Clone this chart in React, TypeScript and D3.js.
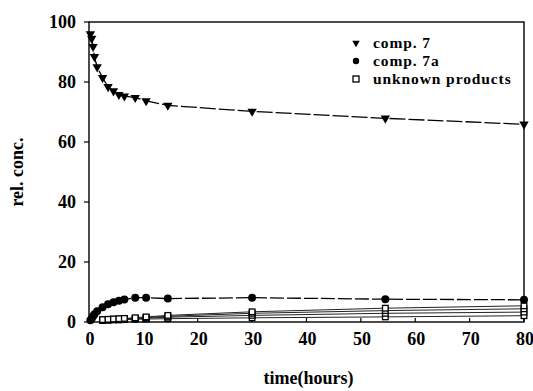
import React from 'react';
import * as d3 from 'd3';

const W = 533;
const H = 391;

// sampling times (hours)
const times = [0.25, 0.5, 0.75, 1.0, 1.5, 2.5, 3.5, 4.5, 5.5, 6.5, 8.5, 10.5, 14.5, 30, 54.5, 80];
const comp7 = [96, 94.5, 91.8, 88.4, 85, 81.4, 78.4, 77, 75.8, 75.3, 74.8, 73.7, 72.2, 70.2, 67.9, 65.9];
const comp7a = [0.6, 1.2, 1.9, 2.6, 3.6, 4.9, 5.9, 6.6, 7.1, 7.5, 8.1, 8.1, 7.8, 8.1, 7.6, 7.4];

// unknown products (several minor series, same marker)
const unkTimes = [2.5, 3.5, 4.5, 5.5, 6.5, 8.5, 10.5, 14.5, 30, 54.5, 80];
const unknown1 = [0.5, 0.6, 0.7, 0.7, 0.8, 0.9, 1.0, 1.1, 1.4, 1.7, 2.1];
const unknown2 = [0.6, 0.7, 0.8, 0.9, 1.0, 1.1, 1.3, 1.6, 2.2, 2.9, 3.3];
const unknown3 = [0.7, 0.8, 0.9, 1.0, 1.1, 1.2, 1.5, 1.9, 2.9, 3.8, 4.4];
const unknown4 = [0.8, 0.9, 1.0, 1.1, 1.2, 1.4, 1.7, 2.2, 3.4, 4.6, 5.4];

const xTicks = [0, 10, 20, 30, 40, 50, 60, 70, 80];
const yTicks = [0, 20, 40, 60, 80, 100];
const legendLabels = ['comp. 7', 'comp. 7a', 'unknown products'];

const FONT = '"Liberation Serif", "Times New Roman", Times, serif';

export default function App() {
  const x = d3.scaleLinear().domain([0, 80]).range([89, 524]);
  const y = d3.scaleLinear().domain([0, 100]).range([322, 22]);

  const line = d3.line<[number, number]>()
    .x(d => x(d[0]))
    .y(d => y(d[1]));

  const pts7 = times.map((t, i) => [t, comp7[i]] as [number, number]);
  const pts7a = times.map((t, i) => [t, comp7a[i]] as [number, number]);
  const unkSeries = [unknown1, unknown2, unknown3, unknown4].map(s =>
    unkTimes.map((t, i) => [t, s[i]] as [number, number]));

  const tri = d3.symbol().type(d3.symbolTriangle).size(38)() || '';
  const triSmall = d3.symbol().type(d3.symbolTriangle).size(24)() || '';

  return (
    <svg width={W} height={H}
      style={{ position: 'absolute', left: 0, top: 0, background: '#fff', fontFamily: FONT }}>
      {/* frame */}
      <rect x={x(0)} y={y(100)} width={x(80) - x(0)} height={y(0) - y(100)}
        fill="none" stroke="#000" strokeWidth={1.4} />

      {/* y ticks */}
      {yTicks.map(v => (
        <g key={'y' + v}>
          <line x1={x(0) - 5} x2={x(0)} y1={y(v)} y2={y(v)} stroke="#000" strokeWidth={1.2} />
          <text x={x(0) - 13} y={y(v)} dy="0.35em" textAnchor="end" fontSize={18} fontWeight="bold">{v}</text>
        </g>
      ))}
      {/* x ticks */}
      {xTicks.map(v => (
        <g key={'x' + v}>
          <line x1={x(v)} x2={x(v)} y1={y(0)} y2={y(0) - 4} stroke="#000" strokeWidth={1.2} />
          <text x={x(v) + 1} y={y(0) + 23} textAnchor="middle" fontSize={18} fontWeight="bold">{v}</text>
        </g>
      ))}

      {/* axis titles */}
      <text transform={`translate(23,${(y(0) + y(100)) / 2}) rotate(-90)`} textAnchor="middle"
        fontSize={18} fontWeight="bold">rel. conc.</text>
      <text x={(x(0) + x(80)) / 2 + 2} y={384} textAnchor="middle" fontSize={18} fontWeight="bold">time(hours)</text>

      {/* unknown products */}
      {unkSeries.map((s, k) => (
        <g key={'u' + k}>
          <path d={line(s) || ''} fill="none" stroke="#222" strokeWidth={1} />
          {s.map((d, i) => (
            <rect key={i} x={x(d[0]) - 2.8} y={y(d[1]) - 2.8} width={5.6} height={5.6}
              fill="#fff" stroke="#000" strokeWidth={1.3} />
          ))}
        </g>
      ))}

      {/* comp. 7a */}
      <path d={line(pts7a) || ''} fill="none" stroke="#000" strokeWidth={1.3} strokeDasharray="14,3" />
      {pts7a.map((d, i) => (
        <circle key={'c' + i} cx={x(d[0])} cy={y(d[1])} r={4} fill="#000" />
      ))}

      {/* comp. 7 */}
      <path d={line(pts7) || ''} fill="none" stroke="#000" strokeWidth={1.3} strokeDasharray="16,3" />
      {pts7.map((d, i) => (
        <path key={'t' + i} d={tri} transform={`translate(${x(d[0])},${y(d[1])}) rotate(180)`} fill="#000" />
      ))}

      {/* legend */}
      {legendLabels.map((lab, i) => {
        const ly = 43 + i * 18;
        return (
          <g key={lab}>
            {i === 0 && <path d={triSmall} transform={`translate(356,${ly}) rotate(180)`} fill="#000" />}
            {i === 1 && <circle cx={356} cy={ly} r={3.2} fill="#000" />}
            {i === 2 && <rect x={353} y={ly - 3} width={6} height={6} fill="#fff" stroke="#000" strokeWidth={1.3} />}
            <text x={373} y={ly} dy="0.33em" fontSize={15.5} letterSpacing={0.9} fontWeight="bold">{lab}</text>
          </g>
        );
      })}
    </svg>
  );
}
